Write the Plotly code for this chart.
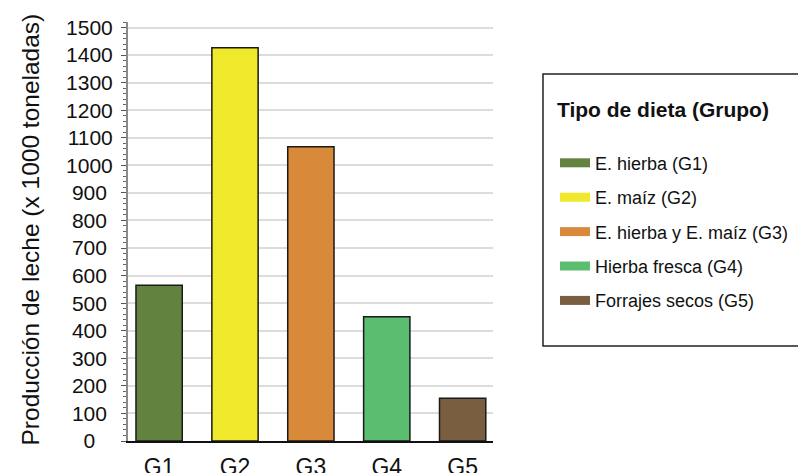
import plotly.graph_objects as go

categories = ["G1", "G2", "G3", "G4", "G5"]
values = [565, 1427, 1067, 451, 155]
legend_names = ["E. hierba (G1)", "E. maíz (G2)", "E. hierba y E. maíz (G3)",
                "Hierba fresca (G4)", "Forrajes secos (G5)"]
colors = ["#62823f", "#f0e82a", "#d8893a", "#5bbd6f", "#7a5e40"]
y_ticks = list(range(0, 1501, 100))

FONT = "Liberation Sans, Arial, sans-serif"

# centre tick labels by padding with no-break spaces (space = half a digit)
maxlen = max(len(str(v)) for v in y_ticks)
tick_text = [str(v) + "\u00a0" * (maxlen - len(str(v))) for v in y_ticks]

fig = go.Figure()
fig.add_trace(go.Bar(
    x=categories, y=values, width=0.61,
    marker=dict(color=colors, line=dict(color="#1a1a1a", width=1.5)),
    showlegend=False, hoverinfo="x+y",
))
for name, col in zip(legend_names, colors):
    fig.add_trace(go.Scatter(
        x=[None], y=[None], mode="lines", name=name, legendgroup=name,
        line=dict(color=col, width=9),
    ))

# page offset (body margin) compensation
OFF = 8
W, H = 806, 473
ml, mr, mt, mb = 128 - OFF, 806 - (493 - OFF), 22 - OFF, 473 - (441 - OFF)
pw, ph = W - ml - mr, H - mt - mb

def px_x(x):
    return (x - OFF - ml) / pw

def px_y(y):
    return (H - mb - (y - OFF)) / ph

fig.update_layout(
    width=W, height=H,
    margin=dict(l=ml, r=mr, t=mt, b=mb, pad=0),
    paper_bgcolor="white", plot_bgcolor="white",
    font=dict(family=FONT, color="#111111"),
    bargap=0.39,
    xaxis=dict(
        range=[-0.41, 4.40], showline=True, linecolor="#111111", linewidth=1.5,
        ticks="", tickfont=dict(size=23, color="#111111"), showgrid=False,
        zeroline=False, automargin=False, ticklabelstandoff=5,
    ),
    yaxis=dict(
        range=[0, 1520], tickvals=y_ticks, ticktext=tick_text,
        showgrid=True, gridcolor="#dcdcdc", gridwidth=1.5,
        showline=True, linecolor="#8a8a8a", linewidth=2,
        ticks="outside", ticklen=5, tickcolor="#555555", tickwidth=1,
        minor=dict(dtick=20, ticks="outside", ticklen=3, tickcolor="#666666",
                   showgrid=False),
        tickfont=dict(size=21, color="#111111"), zeroline=False,
        automargin=False, ticklabelstandoff=4,
    ),
    legend=dict(
        x=px_x(555), y=px_y(90), xanchor="left", yanchor="top",
        bgcolor="rgba(0,0,0,0)", borderwidth=0,
        font=dict(size=18, color="#111111", family=FONT),
        title=dict(text="<b>Tipo de dieta (Grupo)</b><br>\u00a0",
                   font=dict(size=21, color="#111111", family=FONT)),
        tracegroupgap=8, traceorder="grouped",
    ),
    shapes=[dict(
        type="rect", xref="paper", yref="paper",
        x0=px_x(543), x1=px_x(820), y0=px_y(346), y1=px_y(74),
        line=dict(color="#222222", width=1.5), fillcolor="rgba(0,0,0,0)",
        layer="below",
    )],
    annotations=[dict(
        text="Producción de leche (x 1000 toneladas)",
        xref="paper", yref="paper", x=px_x(30), y=px_y(229.5),
        xanchor="center", yanchor="middle", textangle=-90, showarrow=False,
        font=dict(size=24.5, color="#111111", family=FONT),
    )],
)

fig.write_html("out.html")
